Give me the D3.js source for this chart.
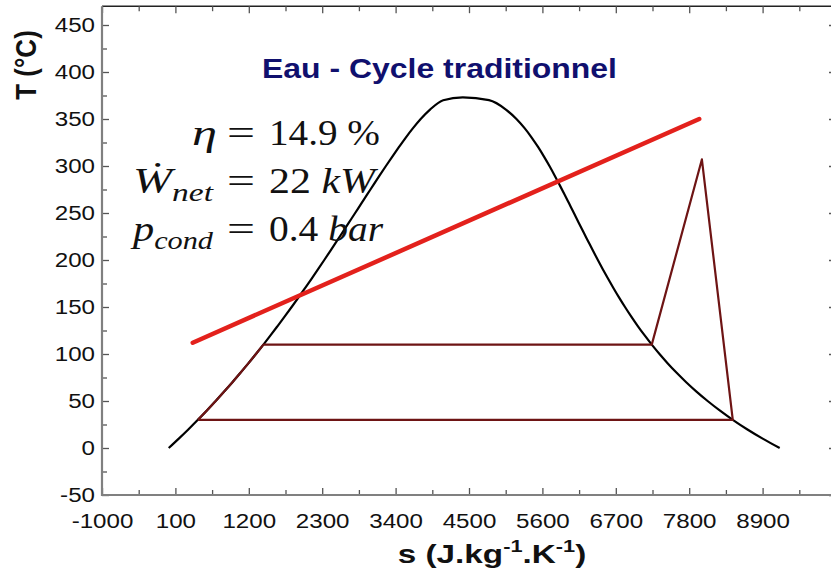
<!DOCTYPE html>
<html>
<head>
<meta charset="utf-8">
<script src="https://cdn.jsdelivr.net/npm/d3@7"></script>
<style>
  body { margin: 0; background: #fff; }
  svg { display: block; }
</style>
</head>
<body>
<svg id="chart" width="831" height="575"></svg>
<script>
// Saturation dome of water: temperature (°C) and entropy (J/kg/K)
const liquidT = [0, 10, 20, 30, 40, 50, 60, 70, 80, 90, 100, 110, 120, 130, 140, 150, 160, 170, 180, 190, 200, 210, 220, 230, 240, 250, 260, 270, 280, 290, 300, 310, 320, 330, 340, 350, 360, 370, 373];
const liquidS = [0, 151, 297, 437, 572, 704, 831, 955, 1075, 1193, 1307, 1419, 1528, 1634, 1739, 1842, 1943, 2042, 2140, 2236, 2331, 2425, 2518, 2610, 2702, 2794, 2885, 2977, 3068, 3161, 3255, 3351, 3449, 3550, 3658, 3776, 3916, 4113, 4407];
const vaporT = [370, 360, 350, 340, 330, 320, 310, 300, 290, 280, 270, 260, 250, 240, 230, 220, 210, 200, 190, 180, 170, 160, 150, 140, 130, 120, 110, 100, 90, 80, 70, 60, 50, 40, 30, 20, 10, 0];
const vaporS = [4800, 5053, 5211, 5336, 5442, 5537, 5624, 5706, 5783, 5857, 5930, 6001, 6072, 6142, 6213, 6285, 6357, 6431, 6507, 6585, 6666, 6750, 6838, 6930, 7027, 7130, 7239, 7355, 7479, 7612, 7755, 7909, 8076, 8257, 8453, 8667, 8901, 9156];

// Rankine cycle: pump / heating along the liquid line, evaporation, superheat, expansion, condensation
const cycleT = [30, 40, 50, 60, 70, 80, 90, 100, 110, 110, 307, 30, 30];
const cycleS = [437, 572, 704, 831, 955, 1075, 1193, 1307, 1419, 7239, 7990, 8453, 437];

// Heat source temperature profile
const sourceT = [112, 350];
const sourceS = [360, 7950];

// Axis ticks
const xTicks = [-1000, 100, 1200, 2300, 3400, 4500, 5600, 6700, 7800, 8900];
const xMinor = [-450, 650, 1750, 2850, 3950, 5050, 6150, 7250, 8350, 9450];
const yTicks = [-50, 0, 50, 100, 150, 200, 250, 300, 350, 400, 450];
const yMinor = [-25, 25, 75, 125, 175, 225, 275, 325, 375, 425];

const SX = 1.15; // horizontal stretch of the lettering
const sans = "'Liberation Sans', Arial, sans-serif";
const fmt = d => String(d);

const svg = d3.select("#chart");
const x = d3.scaleLinear().domain([-1000, 10000]).range([102, 836]);
const y = d3.scaleLinear().domain([-50, 470]).range([495, 6.2]);

const plotL = 102, plotR = 836, plotT = y(470), plotB = 495;

// frame: top and right sides
svg.append("path")
  .attr("d", `M${plotL},${plotT}H${plotR}V${plotB}`)
  .attr("fill", "none").attr("stroke", "#222").attr("stroke-width", 1.5);

function styleAxis(g) {
  g.select(".domain").remove();
  g.selectAll(".tick line").attr("stroke", "#555").attr("stroke-width", 1.3);
}

// top / right ticks
svg.append("g").attr("transform", `translate(0,${plotT})`)
  .call(d3.axisTop(x).tickValues(xTicks).tickSize(-7).tickFormat(""))
  .call(styleAxis);
svg.append("g").attr("transform", `translate(0,${plotT})`)
  .call(d3.axisTop(x).tickValues(xMinor).tickSize(-5).tickFormat(""))
  .call(styleAxis);
svg.append("g").attr("transform", `translate(${plotR},0)`)
  .call(d3.axisRight(y).tickValues(yTicks).tickSize(-7).tickFormat(""))
  .call(styleAxis);
svg.append("g").attr("transform", `translate(${plotR},0)`)
  .call(d3.axisRight(y).tickValues(yMinor).tickSize(-5).tickFormat(""))
  .call(styleAxis);

// bottom axis
const gx = svg.append("g").attr("transform", `translate(0,${plotB})`)
  .call(d3.axisBottom(x).tickValues(xTicks).tickFormat(fmt).tickSize(-7).tickSizeOuter(0).tickPadding(18));
svg.append("g").attr("transform", `translate(0,${plotB})`)
  .call(d3.axisBottom(x).tickValues(xMinor).tickSize(-5).tickFormat(""))
  .call(styleAxis);
gx.select(".domain").remove();
gx.selectAll(".tick line").attr("stroke", "#555").attr("stroke-width", 1.3);
gx.selectAll(".tick text")
  .attr("font-family", sans)
  .attr("font-size", 21).attr("fill", "#111")
  .attr("transform", `scale(${SX},1)`);

// left axis
const gy = svg.append("g").attr("transform", `translate(${plotL},0)`)
  .call(d3.axisLeft(y).tickValues(yTicks).tickFormat(fmt).tickSize(-7).tickSizeOuter(0).tickPadding(7));
svg.append("g").attr("transform", `translate(${plotL},0)`)
  .call(d3.axisLeft(y).tickValues(yMinor).tickSize(-5).tickFormat(""))
  .call(styleAxis);
gy.select(".domain").remove();
gy.selectAll(".tick line").attr("stroke", "#555").attr("stroke-width", 1.3);
gy.selectAll(".tick text")
  .attr("font-family", sans)
  .attr("font-size", 21).attr("fill", "#111")
  .attr("x", 0)
  .attr("transform", `translate(-7,0) scale(${SX},1)`);

// bottom and left axis lines (grey)
svg.append("path")
  .attr("d", `M${plotL},${plotT}V${plotB}H${plotR}`)
  .attr("fill", "none").attr("stroke", "#808080").attr("stroke-width", 2.2);

const line = d3.line().x(d => x(d[0])).y(d => y(d[1]));

// saturation dome (entropy increases monotonically along the curve)
const dome = liquidS.map((s, i) => [s, liquidT[i]])
  .concat(vaporS.map((s, i) => [s, vaporT[i]]));
svg.append("path").datum(dome).attr("d", line.curve(d3.curveMonotoneX))
  .attr("fill", "none").attr("stroke", "#000").attr("stroke-width", 2.2)
  .attr("stroke-linejoin", "round");
line.curve(d3.curveLinear);

// cycle
svg.append("path").datum(cycleS.map((s, i) => [s, cycleT[i]])).attr("d", line)
  .attr("fill", "none").attr("stroke", "#6e1414").attr("stroke-width", 2.2)
  .attr("stroke-linejoin", "round");

// heat source
svg.append("path").datum(sourceS.map((s, i) => [s, sourceT[i]])).attr("d", line)
  .attr("fill", "none").attr("stroke", "#e3211c").attr("stroke-width", 4.5)
  .attr("stroke-linecap", "round");

// title
svg.append("text")
  .attr("x", 262).attr("y", 78)
  .attr("textLength", 355).attr("lengthAdjust", "spacingAndGlyphs")
  .attr("font-family", sans)
  .attr("font-weight", "bold").attr("font-size", 27)
  .attr("fill", "#10106e")
  .text("Eau - Cycle traditionnel");

// axis titles
svg.append("text")
  .attr("transform", `translate(36,65) scale(${SX},1) rotate(-90)`)
  .attr("text-anchor", "middle")
  .attr("font-family", sans)
  .attr("font-weight", "bold").attr("font-size", 26).attr("fill", "#111")
  .text("T (°C)");

const xl = svg.append("text")
  .attr("transform", `translate(492,563) scale(1.28,1)`)
  .attr("text-anchor", "middle")
  .attr("font-family", sans)
  .attr("font-weight", "bold").attr("font-size", 26).attr("fill", "#111");
xl.append("tspan").text("s (J.kg");
xl.append("tspan").attr("dy", -11).attr("font-size", 17).text("-1");
xl.append("tspan").attr("dy", 11).text(".K");
xl.append("tspan").attr("dy", -11).attr("font-size", 17).text("-1");
xl.append("tspan").attr("dy", 11).text(")");

// performance annotations
const serif = "'Liberation Serif', 'Times New Roman', serif";
const ann = svg.append("g").attr("font-family", serif).attr("fill", "#111").attr("font-size", 35);

function lhs(xStart, yBase, len, main, sub) {
  const t = ann.append("text").attr("x", xStart).attr("y", yBase)
    .attr("textLength", len).attr("lengthAdjust", "spacingAndGlyphs");
  t.append("tspan").attr("font-style", "italic").text(main);
  if (sub) t.append("tspan").attr("font-style", "italic").attr("font-size", 25).attr("dy", 8).text(sub);
  return t;
}
function eq(yBase) {
  ann.append("text").attr("x", 227).attr("y", yBase)
    .attr("textLength", 28).attr("lengthAdjust", "spacingAndGlyphs").text("=");
}
function rhs(yBase, len, parts) {
  const t = ann.append("text").attr("x", 269).attr("y", yBase)
    .attr("textLength", len).attr("lengthAdjust", "spacingAndGlyphs");
  parts.forEach(p => t.append("tspan").attr("font-style", p[1] ? "italic" : "normal").text(p[0]));
}

lhs(192, 145, 25, "η");
eq(145);
rhs(145, 111, [["14.9 %", false]]);

lhs(133, 193, 80, "Ẇ", "net");
eq(193);
rhs(193, 106, [["22 ", false], ["kW", true]]);

lhs(133, 241, 80, "p", "cond");
eq(241);
rhs(241, 114, [["0.4 ", false], ["bar", true]]);
</script>
</body>
</html>
